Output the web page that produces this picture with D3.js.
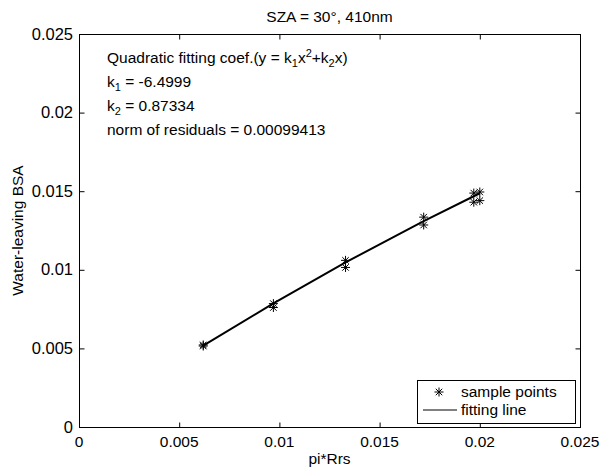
<!DOCTYPE html>
<html>
<head>
<meta charset="utf-8">
<script src="https://cdn.jsdelivr.net/npm/d3@7"></script>
<style>
body { margin: 0; background: #fff; }
svg { display: block; font-family: "Liberation Sans", Arial, sans-serif; }
</style>
</head>
<body>
<svg id="chart" width="602" height="471"></svg>
<script>
// sample points
var sampleX = [0.0062, 0.0062, 0.0097, 0.0097, 0.0133, 0.0133, 0.0172, 0.0172, 0.0197, 0.0197, 0.0200, 0.0200];
var sampleY = [0.00522, 0.00515, 0.00785, 0.00760, 0.01060, 0.01015, 0.01335, 0.01285, 0.01488, 0.01430, 0.01495, 0.01440];

// fitting line as drawn
var lineX = [0.0062, 0.0097, 0.0133, 0.0172, 0.0200];
var lineY = [0.00517, 0.00786, 0.01047, 0.01310, 0.01487];

var xTicks = [0, 0.005, 0.01, 0.015, 0.02, 0.025];
var yTicks = [0, 0.005, 0.01, 0.015, 0.02, 0.025];
var xTickLabels = ["0", "0.005", "0.01", "0.015", "0.02", "0.025"];
var yTickLabels = ["0", "0.005", "0.01", "0.015", "0.02", "0.025"];

var titleText = "SZA = 30\u00b0, 410nm";
var xLabel = "pi*Rrs";
var yLabel = "Water-leaving BSA";
var legendLabels = ["sample points", "fitting line"];

var plotL = 79, plotR = 580, plotT = 34, plotB = 427;
var TICK = 5;
var FS = 15.5;

var svg = d3.select("#chart");

var x = d3.scaleLinear().domain([0, 0.025]).range([plotL, plotR]);
var y = d3.scaleLinear().domain([0, 0.025]).range([plotB, plotT]);

function starPath(cx, cy, r) {
    var d = r * 0.72;
    return "M" + (cx - r) + "," + cy + "L" + (cx + r) + "," + cy +
        "M" + cx + "," + (cy - r) + "L" + cx + "," + (cy + r) +
        "M" + (cx - d) + "," + (cy - d) + "L" + (cx + d) + "," + (cy + d) +
        "M" + (cx - d) + "," + (cy + d) + "L" + (cx + d) + "," + (cy - d);
}

// box
svg.append("rect")
    .attr("x", plotL + 0.5).attr("y", plotT + 0.5)
    .attr("width", plotR - plotL).attr("height", plotB - plotT)
    .attr("fill", "none").attr("stroke", "#000").attr("stroke-width", 1);

// ticks, inward on all four sides
var gx = svg.append("g").attr("transform", "translate(0," + (plotB + 0.5) + ")")
    .call(d3.axisTop(x).tickValues(xTicks).tickSize(TICK).tickFormat(""));
var gx2 = svg.append("g").attr("transform", "translate(0," + (plotT + 0.5) + ")")
    .call(d3.axisBottom(x).tickValues(xTicks).tickSize(TICK).tickFormat(""));
var gy = svg.append("g").attr("transform", "translate(" + (plotL + 0.5) + ",0)")
    .call(d3.axisRight(y).tickValues(yTicks).tickSize(TICK).tickFormat(""));
var gy2 = svg.append("g").attr("transform", "translate(" + (plotR + 0.5) + ",0)")
    .call(d3.axisLeft(y).tickValues(yTicks).tickSize(TICK).tickFormat(""));
[gx, gx2, gy, gy2].forEach(function(g) {
    g.select(".domain").remove();
    g.selectAll("line").attr("stroke", "#000");
});

// tick labels
svg.append("g").selectAll("text").data(xTicks).enter().append("text")
    .attr("x", function(d) { return x(d); })
    .attr("y", plotB + 20)
    .attr("text-anchor", "middle")
    .attr("font-size", FS)
    .text(function(d, i) { return xTickLabels[i]; });
svg.append("g").selectAll("text").data(yTicks).enter().append("text")
    .attr("x", plotL - 6)
    .attr("y", function(d) { return y(d) + 5.5; })
    .attr("text-anchor", "end")
    .attr("font-size", 16.5)
    .text(function(d, i) { return yTickLabels[i]; });

// title and axis labels
svg.append("text").attr("x", (plotL + plotR) / 2).attr("y", 22)
    .attr("text-anchor", "middle").attr("font-size", FS).text(titleText);
svg.append("text").attr("x", (plotL + plotR) / 2).attr("y", 464)
    .attr("text-anchor", "middle").attr("font-size", FS).text(xLabel);
svg.append("text")
    .attr("transform", "translate(23," + ((plotT + plotB) / 2) + ") rotate(-90)")
    .attr("text-anchor", "middle").attr("font-size", FS).text(yLabel);

// fitting line
var line = d3.line().x(function(d) { return x(d[0]); }).y(function(d) { return y(d[1]); });
svg.append("path")
    .datum(d3.zip(lineX, lineY))
    .attr("d", line)
    .attr("fill", "none").attr("stroke", "#000").attr("stroke-width", 2);

// sample points
svg.append("g").selectAll("path").data(d3.zip(sampleX, sampleY)).enter().append("path")
    .attr("d", function(d) { return starPath(x(d[0]), y(d[1]), 4.5); })
    .attr("stroke", "#000").attr("stroke-width", 1).attr("fill", "none");

// annotation
var ann = svg.append("g").attr("font-size", FS);
var t1 = ann.append("text").attr("x", 107).attr("y", 63);
t1.append("tspan").text("Quadratic fitting coef.(y = k");
t1.append("tspan").attr("font-size", 11).attr("dy", 4).text("1");
t1.append("tspan").attr("dy", -4).text("x");
t1.append("tspan").attr("font-size", 11).attr("dy", -6).text("2");
t1.append("tspan").attr("dy", 6).text("+k");
t1.append("tspan").attr("font-size", 11).attr("dy", 4).text("2");
t1.append("tspan").attr("dy", -4).text("x)");

var t2 = ann.append("text").attr("x", 107).attr("y", 87);
t2.append("tspan").text("k");
t2.append("tspan").attr("font-size", 11).attr("dy", 4).text("1");
t2.append("tspan").attr("dy", -4).text(" = -6.4999");

var t3 = ann.append("text").attr("x", 107).attr("y", 111);
t3.append("tspan").text("k");
t3.append("tspan").attr("font-size", 11).attr("dy", 4).text("2");
t3.append("tspan").attr("dy", -4).text(" = 0.87334");

ann.append("text").attr("x", 107).attr("y", 135).text("norm of residuals = 0.00099413");

// legend
var lg = svg.append("g");
lg.append("rect").attr("x", 417.5).attr("y", 380.5).attr("width", 158).attr("height", 43)
    .attr("fill", "#fff").attr("stroke", "#000");
lg.append("path").attr("d", starPath(439, 392, 4.5)).attr("stroke", "#000").attr("fill", "none");
lg.append("line").attr("x1", 423).attr("x2", 457).attr("y1", 410).attr("y2", 410)
    .attr("stroke", "#000").attr("stroke-width", 1);
lg.append("text").attr("x", 461).attr("y", 397).attr("font-size", FS).text(legendLabels[0]);
lg.append("text").attr("x", 461).attr("y", 415).attr("font-size", FS).text(legendLabels[1]);
</script>
</body>
</html>
